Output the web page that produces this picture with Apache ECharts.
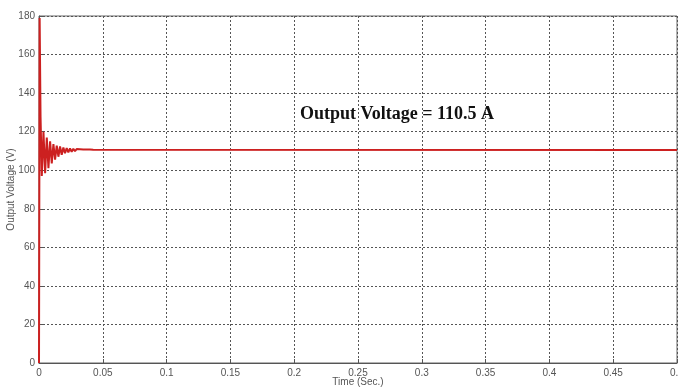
<!DOCTYPE html>
<html>
<head>
<meta charset="utf-8">
<script src="https://cdn.jsdelivr.net/npm/echarts@6/dist/echarts.min.js"></script>
<style>html,body{margin:0;padding:0;background:#fff}#c{width:678px;height:390px}</style>
</head>
<body>
<div id="c"></div>
<script>
var times = [0, 0.0005, 0.0012, 0.0022, 0.0035, 0.0048, 0.0061, 0.0074, 0.0087, 0.0100, 0.0113, 0.0126, 0.0139, 0.0152, 0.0165, 0.0178, 0.0191, 0.0204, 0.0217, 0.0230, 0.0243, 0.0256, 0.0269, 0.0282, 0.0295, 0.0308, 0.0321, 0.0334, 0.0347, 0.0360, 0.0373, 0.0386, 0.0399, 0.0412, 0.0425, 0.0440, 0.5];
var volts = [0, 179, 128, 97, 120, 98.5, 117, 101, 115, 103.5, 113.5, 105.5, 112.8, 107, 112.3, 108, 111.8, 108.8, 111.5, 109.3, 111.3, 109.6, 111.1, 109.9, 111.0, 110.0, 110.9, 110.1, 110.8, 110.2, 110.75, 110.3, 110.7, 110.35, 110.6, 110.5, 110.5];
var xTicks = {min: 0, max: 0.5, interval: 0.05};
var yTicks = {min: 0, max: 180, interval: 20};
var annotation = 'Output Voltage = 110.5 A';

var data = times.map(function (t, i) { return [t, volts[i]]; });
var labelFont = '"Liberation Sans Narrow", "Liberation Sans", Arial, sans-serif';
var chart = echarts.init(document.getElementById('c'), null, {renderer: 'canvas'});
chart.setOption({
  animation: false,
  backgroundColor: '#fff',
  grid: {left: 39, right: 1, top: 16, bottom: 27, containLabel: false, outerBoundsMode: 'none', show: true, borderColor: '#666', borderWidth: 1, backgroundColor: 'transparent'},
  xAxis: {
    type: 'value', min: xTicks.min, max: xTicks.max, interval: xTicks.interval,
    name: 'Time (Sec.)', nameLocation: 'middle', nameGap: 14, nameMoveOverlap: false,
    nameTextStyle: {color: '#555', fontSize: 10, fontFamily: labelFont},
    axisLine: {show: true, lineStyle: {color: '#555', width: 1}},
    axisTick: {show: true, inside: true, length: 4, lineStyle: {color: '#555'}},
    axisLabel: {color: '#555', fontSize: 10, fontFamily: labelFont, margin: 5, showMaxLabel: true},
    splitLine: {show: true, lineStyle: {color: '#555', type: [2, 2], width: 1}}
  },
  yAxis: {
    type: 'value', min: yTicks.min, max: yTicks.max, interval: yTicks.interval,
    name: 'Output Voltage (V)', nameLocation: 'middle', nameGap: 23, nameRotate: 90, nameMoveOverlap: false,
    nameTextStyle: {color: '#555', fontSize: 10, fontFamily: labelFont},
    axisLine: {show: true, lineStyle: {color: '#555', width: 1}},
    axisTick: {show: true, inside: true, length: 4, lineStyle: {color: '#555'}},
    axisLabel: {color: '#555', fontSize: 10, fontFamily: labelFont, margin: 4},
    splitLine: {show: true, lineStyle: {color: '#555', type: [2, 2], width: 1}}
  },
  series: [{
    type: 'line', data: data, showSymbol: false, smooth: false,
    lineStyle: {color: '#cc2020', width: 2},
    z: 5
  }],
  graphic: [{
    type: 'text', left: 300, top: 105,
    style: {text: annotation, fill: '#111', font: 'bold 18px "Liberation Serif", "Times New Roman", serif'}
  }]
});
</script>
</body>
</html>
